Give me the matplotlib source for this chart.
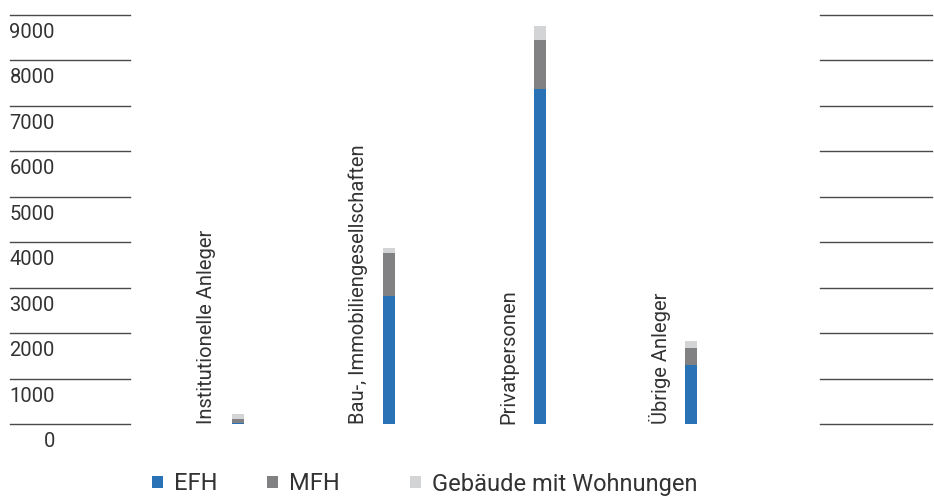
import matplotlib
matplotlib.use("Agg")
import matplotlib.pyplot as plt
from matplotlib.transforms import offset_copy, blended_transform_factory

plt.rcParams['font.family'] = ['Roboto', 'DejaVu Sans']

# Wohnungen nach Eigentümerart
categories = ["Institutionelle Anleger", "Bau-, Immobiliengesellschaften",
              "Privatpersonen", "Übrige Anleger"]
efh = [30, 2820, 7370, 1300]
mfh = [90, 950, 1080, 370]
gebaeude = [110, 100, 310, 150]
series_names = ["EFH", "MFH", "Gebäude mit Wohnungen"]
yticks = [0, 1000, 2000, 3000, 4000, 5000, 6000, 7000, 8000, 9000]

colors = ["#2a72b6", "#818184", "#d3d4d6"]
text_color = "#333333"

W, H = 934, 497
fig = plt.figure(figsize=(W / 100, H / 100), dpi=100)
ax = fig.add_axes([10 / W, (H - 424) / H, 922 / W, 409 / H])

x = list(range(len(categories)))
px = 151.0  # pixels per category step
bw = 12 / px
bottom2 = [a + b for a, b in zip(efh, mfh)]
b1 = ax.bar(x, efh, bw, color=colors[0], linewidth=0)
b2 = ax.bar(x, mfh, bw, bottom=efh, color=colors[1], linewidth=0)
b3 = ax.bar(x, gebaeude, bw, bottom=bottom2, color=colors[2], linewidth=0)

ax.set_xlim(-228 / px, 3 + 241 / px)
ax.set_ylim(0, 9000)
ax.axis("off")

# short gridline stubs on both sides
for t in yticks:
    ax.axhline(t, 0, 120 / 922, color="#4a4a4a", lw=1.0, zorder=0, clip_on=False)
    ax.axhline(t, 810 / 922, 1, color="#4a4a4a", lw=1.0, zorder=0, clip_on=False)

lab_tr = offset_copy(blended_transform_factory(ax.transAxes, ax.transData),
                     fig=fig, x=0, y=-8, units="dots")
for t in yticks:
    ax.text(45 / 922, t, str(t), transform=lab_tr, ha="right", va="top",
            fontsize=14.5, color=text_color)

for xi, name in zip(x, categories):
    ax.text(xi - 31 / px, 0, name, rotation=90, ha="center", va="bottom",
            fontsize=14.5, color=text_color)

for h, name, lx in zip([b1, b2, b3], series_names, [152, 267, 410]):
    fig.legend([h], [name], loc="center left",
               bbox_to_anchor=(lx / W, (H - 484) / H), frameon=False,
               handlelength=0.45, handleheight=0.45, handletextpad=0.5,
               borderaxespad=0, borderpad=0, fontsize=17,
               labelcolor=text_color)

fig.savefig("out.png", dpi=100)
